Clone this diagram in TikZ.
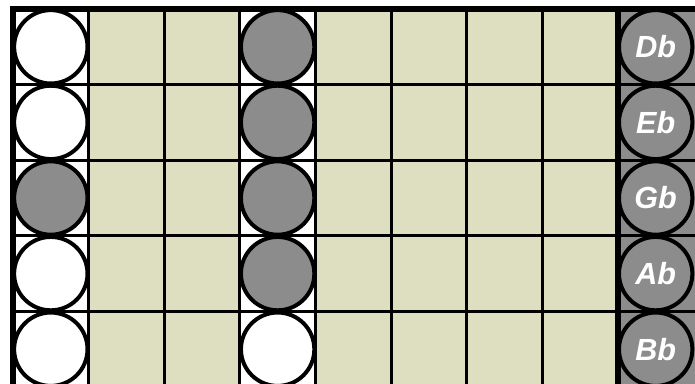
\documentclass[tikz,border=0pt]{standalone}
\usepackage{fontspec}
\setmainfont{Liberation Sans}
\usetikzlibrary{positioning}
\definecolor{Fret_Beige}{HTML}{DEDEC0}
\definecolor{Key_Gray}{HTML}{8C8C8C}

\begin{document}
\begin{tikzpicture}[
    x=1cm, y=-1cm,
    hole/.style={
        circle,
        draw=black,
        line width=1.5pt,
        minimum size=0.97cm,
        inner sep=0pt
    },
    openhole/.style={hole, fill=white},
    closedhole/.style={hole, fill=Key_Gray},
    notename/.style={
        closedhole,
        text=white,
        font=\bfseries\itshape\fontsize{11.5}{13}\selectfont
    },
    gridthin/.style={line width=1.1pt},
    gridthick/.style={line width=2pt}
]

\useasboundingbox (-0.172,-0.119) rectangle (9.02,4.947);

% column backgrounds
\fill[white] (0,0) rectangle (1,5);
\fill[Fret_Beige] (1,0) rectangle (3,5);
\fill[white] (3,0) rectangle (4,5);
\fill[Fret_Beige] (4,0) rectangle (8,5);
\fill[Key_Gray] (8,0) rectangle (9.1,5);

% grid
\foreach \y in {1,...,4}
    \draw[gridthin] (0,\y) -- (9.1,\y);
\foreach \x in {1,...,7}
    \draw[gridthin] (\x,0) -- (\x,5);
\draw[gridthick] (0,5) -- (0,0) -- (9.1,0);
\draw[gridthick] (8,0) -- (8,5);

% holes
\foreach \r/\f in {1/openhole,2/openhole,3/closedhole,4/openhole,5/openhole}
    \node[\f] (left\r) at (0.5,\r-0.5) {};
\foreach \r/\f in {1/closedhole,2/closedhole,3/closedhole,4/closedhole,5/openhole}
    \node[\f] (mid\r) at (3.5,\r-0.5) {};
\foreach \r/\n in {1/Db,2/Eb,3/Gb,4/Ab,5/Bb}
    \node[notename] (key\r) at (8.5,\r-0.5) {\n};

\end{tikzpicture}
\end{document}
